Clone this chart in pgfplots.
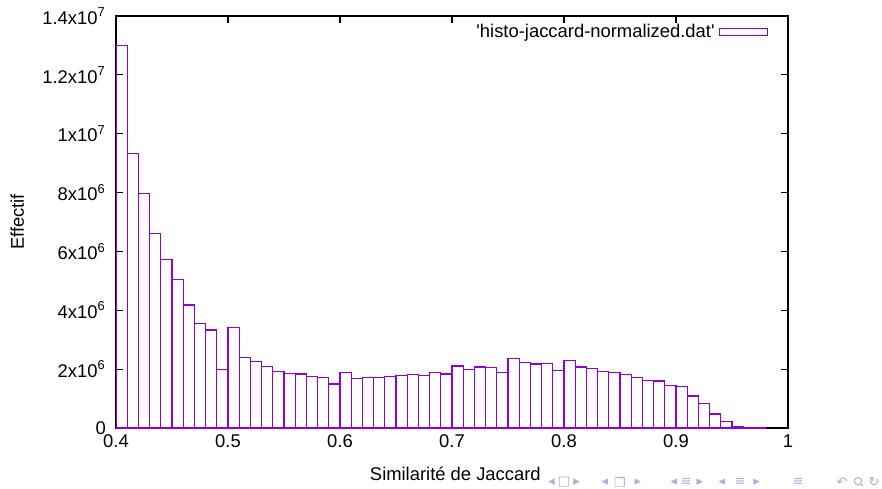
\documentclass[border=0pt]{standalone}
\usepackage{fontspec}
\setmainfont{Liberation Sans}
\newfontfamily\navfont{DejaVu Sans}
\usepackage{pgfplots}
\pgfplotsset{compat=1.18}
\definecolor{gpviolet}{HTML}{9400D3}
\definecolor{navsym}{RGB}{173,173,224}
% gnuplot-style box sample in the key
\pgfplotsset{gpboxlegend/.style={legend image code/.code={\draw[##1] (0pt,-1.75pt) rectangle (24pt,1.75pt);}}}

\begin{document}
\begin{tikzpicture}[font=\fontsize{9.2}{11}\selectfont]
\path[use as bounding box] (-58pt,-30pt) rectangle (383pt,214pt);
\begin{axis}[
  at={(0pt,0pt)}, anchor=south west,
  width=336pt, height=206pt, scale only axis,
  xmin=0.4, xmax=1, ymin=0, ymax=1.4e7,
  xtick={0.4,0.5,0.6,0.7,0.8,0.9,1},
  xticklabels={0.4,0.5,0.6,0.7,0.8,0.9,1},
  ytick={0,2e6,4e6,6e6,8e6,1e7,1.2e7,1.4e7},
  yticklabels={0,{2x10\textsuperscript{6}},{4x10\textsuperscript{6}},{6x10\textsuperscript{6}},{8x10\textsuperscript{6}},{1x10\textsuperscript{7}},{1.2x10\textsuperscript{7}},{1.4x10\textsuperscript{7}}},
  scaled ticks=false,
  tick align=inside, tick pos=both,
  major tick length=3.5pt,
  axis line style={line width=0.6pt},
  every tick/.style={black, line width=0.6pt},
  yticklabel style={xshift=-1.6pt},
  xlabel={Similarité de Jaccard},
  ylabel={Effectif},
  xlabel style={at={(axis description cs:0.505,0)}, anchor=base, yshift=-26.4pt},
  ylabel style={at={(axis description cs:-0.147,0.5)}, anchor=center},
  legend plot pos=right,
  legend cell align=right,
  legend style={draw=none, fill=none, at={(axis description cs:0.9707,0.961)}, anchor=east, inner sep=0pt},
]
\addplot[ybar interval, color=gpviolet, draw=gpviolet, fill=none, line width=0.65pt, gpboxlegend]
  coordinates {
  (0.40,12990000) (0.41,9330000) (0.42,7960000) (0.43,6600000) (0.44,5730000)
  (0.45,5040000) (0.46,4180000) (0.47,3540000) (0.48,3330000) (0.49,1990000)
  (0.50,3420000) (0.51,2390000) (0.52,2250000) (0.53,2080000) (0.54,1930000)
  (0.55,1850000) (0.56,1840000) (0.57,1760000) (0.58,1720000) (0.59,1500000)
  (0.60,1890000) (0.61,1690000) (0.62,1710000) (0.63,1720000) (0.64,1760000)
  (0.65,1790000) (0.66,1820000) (0.67,1790000) (0.68,1890000) (0.69,1840000)
  (0.70,2110000) (0.71,1980000) (0.72,2070000) (0.73,2050000) (0.74,1880000)
  (0.75,2370000) (0.76,2220000) (0.77,2180000) (0.78,2190000) (0.79,1950000)
  (0.80,2300000) (0.81,2070000) (0.82,2030000) (0.83,1930000) (0.84,1890000)
  (0.85,1820000) (0.86,1720000) (0.87,1620000) (0.88,1600000) (0.89,1440000)
  (0.90,1410000) (0.91,1090000) (0.92,830000) (0.93,480000) (0.94,220000)
  (0.95,60000) (0.96,15000) (0.97,5000) (0.98,0)
  };
\addlegendentry{\textquotesingle histo-jaccard-normalized.dat\textquotesingle}
\end{axis}
% beamer navigation symbols along the bottom edge
\begin{scope}[every node/.style={text=navsym, font=\navfont\fontsize{6.5}{7}\selectfont, inner sep=0pt}]
\node at (217.8pt,-27pt) {◂};
\node at (224pt,-27pt) {□};
\node at (230.3pt,-27pt) {▸};
\node at (244.5pt,-27pt) {◂};
\node at (252pt,-27pt) {❐};
\node at (261pt,-27pt) {▸};
\node at (279pt,-27pt) {◂};
\node at (285pt,-27pt) {≡};
\node at (292pt,-27pt) {▸};
\node at (303pt,-27pt) {◂};
\node at (312pt,-27pt) {≡};
\node at (320.3pt,-27pt) {▸};
\node at (341pt,-27pt) {≡};
\node at (363pt,-27pt) {↶};
\node at (379pt,-27pt) {↻};
\end{scope}
% search (magnifier) icon
\draw[navsym, line width=0.5pt] (371pt,-26.6pt) circle (1.8pt);
\draw[navsym, line width=0.6pt] (372.2pt,-27.9pt) -- (373.4pt,-29.1pt);
\end{tikzpicture}
\end{document}
